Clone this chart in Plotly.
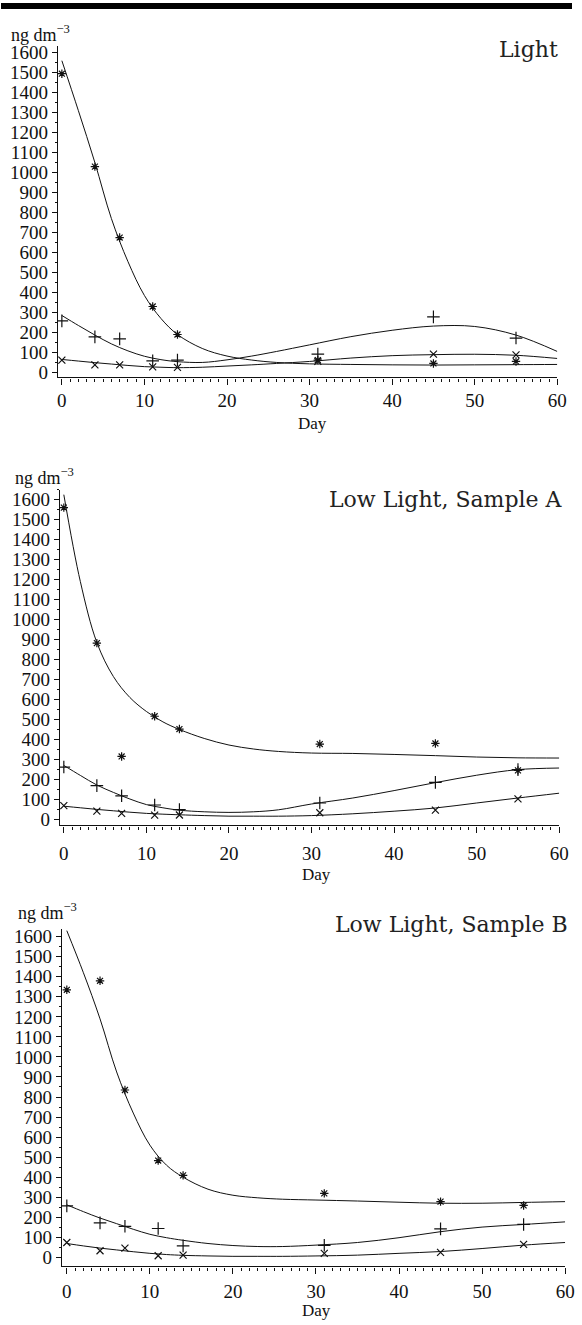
import plotly.graph_objects as go

W, H = 582, 1325

# ---------------- data ----------------
DAYS = [0, 4, 7, 11, 14, 31, 45, 55]
CURVE_DAYS = [0, 2, 4, 6, 8, 10, 12, 14, 17, 20, 23, 26, 30, 35, 40, 45, 50, 55, 60]

PANEL_TITLES = ["Light", "Low Light, Sample A", "Low Light, Sample B"]
X_TICKS = [0, 10, 20, 30, 40, 50, 60]
Y_TICKS = list(range(0, 1700, 100))

# Light
LIGHT_STAR = [1495, 1030, 675, 330, 190, 62, 45, 55]
LIGHT_PLUS = [258, 178, 168, 58, 62, 92, 278, 172]
LIGHT_CROSS = [62, 38, 38, 28, 25, 55, 92, 88]
LIGHT_STAR_FIT = [1560, 1310, 1050, 770, 555, 385, 270, 190, 120, 82, 62, 50, 43, 40, 38, 37, 38, 39, 40]
LIGHT_PLUS_FIT = [285, 235, 187, 143, 108, 81, 64, 54, 50, 63, 82, 105, 138, 179, 211, 232, 230, 187, 105]
LIGHT_CROSS_FIT = [65, 57, 49, 42, 35, 29, 26, 24, 26, 32, 38, 45, 55, 72, 84, 89, 91, 86, 70]

# Low Light, Sample A
A_STAR = [1560, 882, 315, 516, 452, 377, 380, 245]
A_PLUS = [262, 169, 118, 72, 49, 82, 185, 249]
A_CROSS = [69, 41, 30, 21, 22, 33, 46, 103]
A_STAR_FIT = [1625, 1190, 885, 715, 610, 540, 488, 450, 405, 372, 352, 340, 332, 330, 325, 319, 312, 308, 307]
A_PLUS_FIT = [270, 220, 172, 135, 102, 74, 58, 46, 38, 35, 38, 48, 77, 107, 144, 184, 221, 249, 257]
A_CROSS_FIT = [66, 58, 50, 43, 36, 30, 26, 23, 19, 16, 16, 16, 19, 28, 41, 57, 82, 107, 131]

# Low Light, Sample B
B_STAR = [1335, 1380, 835, 483, 409, 319, 278, 259]
B_PLUS = [257, 172, 155, 144, 57, 60, 142, 164]
B_CROSS = [74, 33, 46, 8, 11, 20, 25, 65]
B_STAR_FIT = [1630, 1420, 1190, 925, 720, 560, 460, 400, 340, 310, 297, 290, 286, 281, 275, 270, 270, 274, 278]
B_PLUS_FIT = [262, 228, 196, 168, 140, 115, 98, 85, 69, 59, 54, 54, 61, 74, 98, 128, 151, 164, 177]
B_CROSS_FIT = [69, 57, 46, 37, 28, 20, 14, 10, 7, 5, 5, 5, 7, 11, 20, 29, 44, 61, 74]

PANELS = [
    (LIGHT_STAR, LIGHT_PLUS, LIGHT_CROSS, LIGHT_STAR_FIT, LIGHT_PLUS_FIT, LIGHT_CROSS_FIT),
    (A_STAR, A_PLUS, A_CROSS, A_STAR_FIT, A_PLUS_FIT, A_CROSS_FIT),
    (B_STAR, B_PLUS, B_CROSS, B_STAR_FIT, B_PLUS_FIT, B_CROSS_FIT),
]

# ---------------- layout geometry (pixels) ----------------
def px_x(x):
    return x / W


def px_y(y):
    return 1 - y / H


GEOM = [
    dict(l=58, r=567, t=43, b=377, x0=-0.48, yr=[-25, 1635], so=0,
         title=(570, 47), ylab=(8, 31), day=(318, 423)),
    dict(l=60, r=569, t=490, b=828, x0=-0.48, yr=[-30, 1650], so=5,
         title=(575, 500), ylab=(12, 477), day=(322, 877)),
    dict(l=62, r=575, t=932, b=1272, x0=-0.6, yr=[-45, 1640], so=2,
         title=(580, 928), ylab=(15, 915), day=(322, 1316)),
]

TICKFONT = dict(family="Liberation Serif", size=19, color="#111")
INK = "#111"

fig = go.Figure()
layout = dict(
    width=W, height=H,
    margin=dict(l=0, r=0, t=0, b=0),
    paper_bgcolor="white", plot_bgcolor="white",
    showlegend=False,
    annotations=[], shapes=[],
)

for i, (data, g) in enumerate(zip(PANELS, GEOM)):
    sfx = "" if i == 0 else str(i + 1)
    xa, ya = "x" + sfx, "y" + sfx
    star, plus, cross, sfit, pfit, cfit = data

    for fit in (sfit, pfit, cfit):
        fig.add_trace(go.Scatter(
            x=CURVE_DAYS, y=fit, mode="lines", xaxis=xa, yaxis=ya,
            line=dict(color=INK, width=1, shape="spline", smoothing=1.0),
            hoverinfo="skip"))
    for vals, sym, size in ((star, "asterisk-open", 7),
                            (plus, "cross-thin-open", 9),
                            (cross, "x-thin-open", 7)):
        fig.add_trace(go.Scatter(
            x=DAYS, y=vals, mode="markers", xaxis=xa, yaxis=ya,
            marker=dict(symbol=sym, size=size, color=INK,
                        line=dict(color=INK, width=1.2)),
            hoverinfo="skip"))

    layout["xaxis" + sfx] = dict(
        domain=[px_x(g["l"]), px_x(g["r"])], range=[g["x0"], 60],
        anchor=ya, showgrid=False, zeroline=False,
        showline=True, linecolor=INK, linewidth=1.3,
        tickmode="array", tickvals=X_TICKS, ticktext=[str(v) for v in X_TICKS],
        ticks="outside", ticklen=6, tickwidth=1, tickcolor=INK,
        ticklabelstandoff=g["so"],
        minor=dict(ticks="outside", dtick=1, tick0=0, ticklen=3,
                   tickwidth=1, tickcolor=INK, showgrid=False),
        tickfont=TICKFONT, fixedrange=True,
    )
    layout["yaxis" + sfx] = dict(
        domain=[px_y(g["b"]), px_y(g["t"])], range=g["yr"],
        anchor=xa, showgrid=False, zeroline=False,
        showline=True, linecolor=INK, linewidth=1.3,
        tickmode="array", tickvals=Y_TICKS, ticktext=[str(v) for v in Y_TICKS],
        ticks="outside", ticklen=5, tickwidth=1, tickcolor=INK,
        minor=dict(ticks="outside", dtick=50, tick0=0, ticklen=2,
                   tickwidth=1, tickcolor=INK, showgrid=False),
        tickfont=TICKFONT, fixedrange=True,
    )

    tx, ty = g["title"]
    layout["annotations"].append(dict(
        text=PANEL_TITLES[i], xref="paper", yref="paper",
        x=px_x(tx), y=px_y(ty), xanchor="right", yanchor="middle",
        showarrow=False,
        font=dict(family="DejaVu Serif", size=22, color="#222")))
    lx, ly = g["ylab"]
    layout["annotations"].append(dict(
        text="ng dm<sup>\u22123</sup>", xref="paper", yref="paper",
        x=px_x(lx), y=px_y(ly), xanchor="left", yanchor="middle",
        showarrow=False,
        font=dict(family="Liberation Serif", size=18, color=INK)))
    dx, dy = g["day"]
    layout["annotations"].append(dict(
        text="Day", xref="paper", yref="paper",
        x=px_x(dx), y=px_y(dy), xanchor="center", yanchor="middle",
        showarrow=False,
        font=dict(family="Liberation Serif", size=17, color=INK)))

# scanned page rule at the very top
layout["shapes"].append(dict(
    type="rect", xref="paper", yref="paper", x0=0, x1=1,
    y0=px_y(6), y1=1, fillcolor="black", line=dict(width=0), layer="above"))

fig.update_layout(**layout)
fig.write_html(
    "out.html",
    config={"displayModeBar": False},
    post_script="document.body.style.margin='0';document.body.style.padding='0';",
)
